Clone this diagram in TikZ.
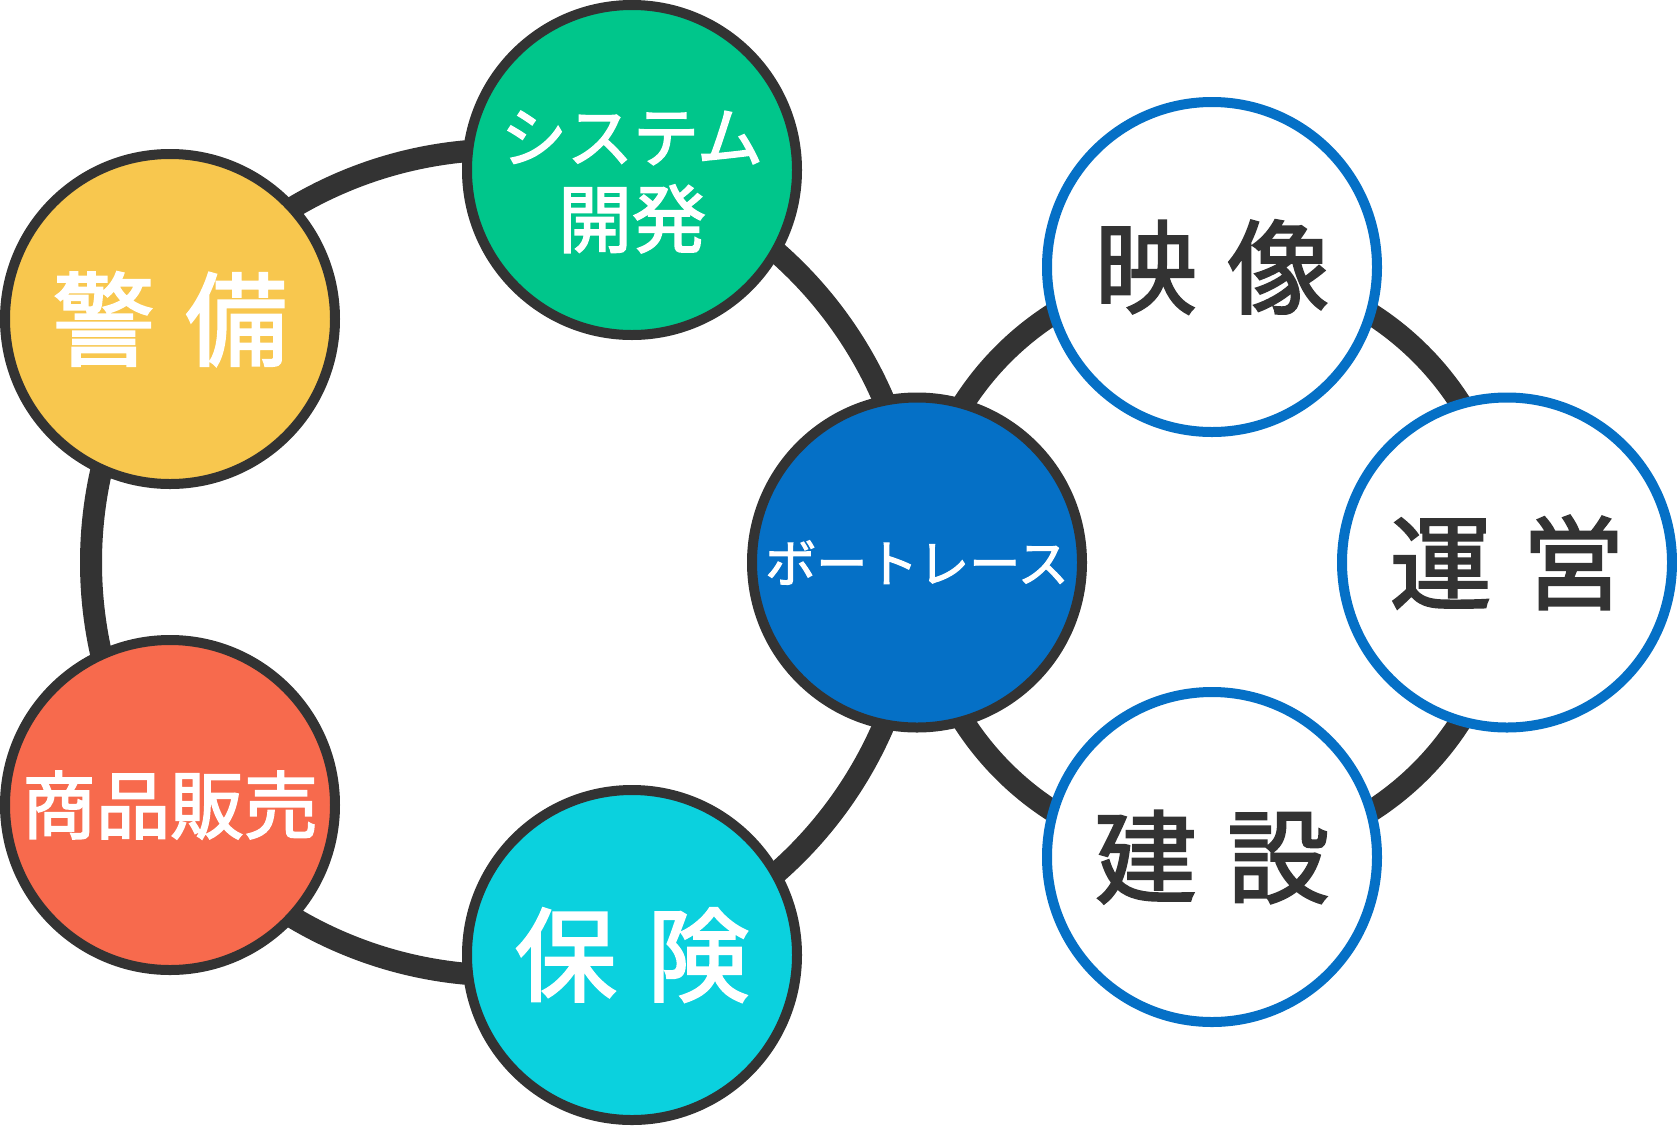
\documentclass[tikz,border=0pt]{standalone}
\usepackage{fontspec}
\setmainfont{Noto Sans CJK JP}[FakeBold=2.2]
\definecolor{ringgray}{HTML}{333333}
\definecolor{boatblue}{HTML}{0570C6}
\definecolor{sysgreen}{HTML}{00C68B}
\definecolor{guardyellow}{HTML}{F8C74E}
\definecolor{salesred}{HTML}{F76A4D}
\definecolor{insurecyan}{HTML}{0BD1DE}
\usetikzlibrary{calc}

\begin{document}
\begin{tikzpicture}[x=1pt,y=-1pt,
    ring/.style={draw=ringgray,line width=22pt},
    bizcircle/.style={circle,draw=ringgray,line width=10pt,minimum size=330pt,inner sep=0pt,text=white},
    subcircle/.style={circle,draw=boatblue,fill=white,line width=10pt,minimum size=330pt,inner sep=0pt,text=ringgray},
    bigtext/.style={font={\fontsize{102pt}{110pt}\selectfont\spaceskip=0.3em\relax}}]
    \useasboundingbox (0,0) rectangle (1677,1125);
    % ring centres
    \coordinate (lhub) at (504,562.5);
    \coordinate (rhub) at (1212,562.5);
    \draw[ring] (lhub) circle[radius=413];
    \draw[ring] (rhub) circle[radius=295];
    % business circles
    \node[bizcircle,fill=boatblue,font=\fontsize{51pt}{56pt}\selectfont] (boat) at (917,562.5) {ボートレース};
    \node[bizcircle,fill=sysgreen] (sys) at (632,170) {};
    \node[text=white,align=center,inner sep=0pt,font=\fontsize{74pt}{85pt}\selectfont] (systext) at ([yshift=-12pt]sys.center)
        {{\fontsize{66pt}{85pt}\selectfont システム}\\開発};
    \node[bizcircle,fill=guardyellow,bigtext] (guard) at (170,319) {警 備};
    \node[bizcircle,fill=salesred,font=\fontsize{74pt}{80pt}\selectfont] (sales) at (170,805) {商品販売};
    \node[bizcircle,fill=insurecyan,bigtext] (insure) at (632,955) {保 険};
    % boat race circles
    \node[subcircle,bigtext] (video) at (1212,267) {映 像};
    \node[subcircle,bigtext] (manage) at (1507,562.5) {運 営};
    \node[subcircle,bigtext] (build) at (1212,857) {建 設};
\end{tikzpicture}
\end{document}
